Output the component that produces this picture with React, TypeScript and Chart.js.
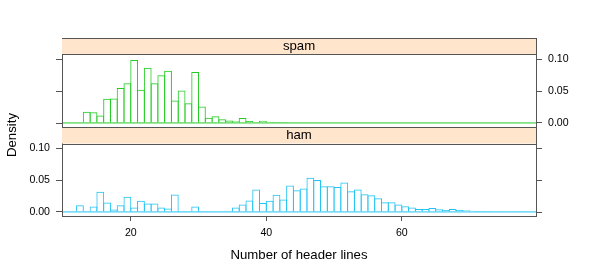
import React, { useEffect, useRef } from "react";
import { Chart, registerables } from "chart.js";

Chart.register(...registerables);

// ---- data (bin start values, width 1) ----
const binStarts = [
  10, 11, 12, 13, 14, 15, 16, 17, 18, 19,
  20, 21, 22, 23, 24, 25, 26, 27, 28, 29,
  30, 31, 32, 33, 34, 35, 36, 37, 38, 39,
  40, 41, 42, 43, 44, 45, 46, 47, 48, 49,
  50, 51, 52, 53, 54, 55, 56, 57, 58, 59,
  60, 61, 62, 63, 64, 65, 66, 67, 68, 69,
  70, 71, 72, 73, 74, 75, 76, 77, 78, 79,
];

const spamDensity = [
  0.001, 0, 0.001, 0.0177, 0.0167, 0.0115, 0.038, 0.0385, 0.0547, 0.0625,
  0.099, 0.052, 0.0865, 0.0625, 0.075, 0.082, 0.0354, 0.051, 0.031, 0.08,
  0.026, 0.0083, 0.0104, 0.0057, 0.004, 0.0026, 0.0078, 0.003, 0.001, 0.0036,
  0.002, 0.0015, 0.0015, 0.001, 0.0005, 0.001, 0.0005, 0, 0, 0,
  0, 0, 0, 0, 0, 0, 0, 0, 0, 0,
  0, 0, 0, 0, 0, 0, 0, 0, 0, 0,
  0, 0, 0, 0, 0, 0, 0, 0, 0, 0,
];

const hamDensity = [
  0.0005, 0, 0.0105, 0.001, 0.0084, 0.0316, 0.0147, 0.0037, 0.0105, 0.0237,
  0.0068, 0.0174, 0.0132, 0.0132, 0.0068, 0.0053, 0.0274, 0.0016, 0.001, 0.0084,
  0.0016, 0.0003, 0, 0, 0.002, 0.0068, 0.0116, 0.0179, 0.0353, 0.0142,
  0.0174, 0.0268, 0.0195, 0.0416, 0.0342, 0.0368, 0.0537, 0.05, 0.0405, 0.0405,
  0.039, 0.0463, 0.0326, 0.0353, 0.0279, 0.0263, 0.0216, 0.0153, 0.0153, 0.0118,
  0.0089, 0.0068, 0.0047, 0.0047, 0.0063, 0.0042, 0.0032, 0.0047, 0.0032, 0.0026,
  0.002, 0.0016, 0.0015, 0.001, 0.001, 0.0006, 0.0005, 0.0004, 0.0003, 0.0002,
];

const panelLabels = ["spam", "ham"];
const xTickValues = [20, 40, 60];
const yTickValues = [0, 0.05, 0.1];
const xTitle = "Number of header lines";
const yTitle = "Density";

// ---- styling / layout ----
const FONT = '"Liberation Sans", Arial, Helvetica, sans-serif';
const TITLE_SIZE = 13.2;
const TICK_SIZE = 10.6;
const SPAM_COLOR = "#22cc22";
const HAM_COLOR = "#22c4f4";
const STRIP_FILL = "#ffe5cc";
const FRAME = "#555555";
const X_LIM = [9.85, 79.8];
const Y_LIM = [-0.0064, 0.1075];
const W = 589;
const H = 273;
const AREA_TOP = 38;
const AREA_BOTTOM = 216;
const STRIP_H = 16.5;

const areaH = AREA_BOTTOM - AREA_TOP;
const panelH = (areaH - 2 * STRIP_H) / 2;
const ppu = panelH / (Y_LIM[1] - Y_LIM[0]);
const topMax = Y_LIM[1] + STRIP_H / ppu;
const topMin = topMax - areaH / ppu;
const botMin = Y_LIM[0];
const botMax = botMin + areaH / ppu;

const fmt = (v: number) => v.toFixed(2);

const latticePlugin = {
  id: "latticeFrame",
  afterDatasetsDraw(chart: any) {
    const { ctx, chartArea } = chart;
    const yTop = chart.scales.yTop;
    const yBot = chart.scales.yBot;
    const L = chartArea.left;
    const R = chartArea.right;
    const topPanelTop = yTop.getPixelForValue(Y_LIM[1]);
    const topPanelBottom = yTop.getPixelForValue(Y_LIM[0]);
    const botPanelTop = yBot.getPixelForValue(Y_LIM[1]);
    const strips = [
      { y0: chartArea.top, y1: topPanelTop, label: panelLabels[0] },
      { y0: topPanelBottom, y1: botPanelTop, label: panelLabels[1] },
    ];
    ctx.save();
    for (const s of strips) {
      ctx.fillStyle = STRIP_FILL;
      ctx.fillRect(L, s.y0, R - L, s.y1 - s.y0);
      ctx.fillStyle = "#000";
      ctx.font = `${TITLE_SIZE}px ${FONT}`;
      ctx.textAlign = "center";
      ctx.textBaseline = "middle";
      ctx.fillText(s.label, (L + R) / 2, (s.y0 + s.y1) / 2 + 0.5);
    }
    ctx.strokeStyle = FRAME;
    ctx.lineWidth = 1;
    const hl = (y: number) => {
      const yy = Math.round(y) + 0.5;
      ctx.beginPath();
      ctx.moveTo(L, yy);
      ctx.lineTo(R, yy);
      ctx.stroke();
    };
    hl(chartArea.top);
    hl(topPanelTop);
    hl(topPanelBottom);
    hl(botPanelTop);
    // unlabeled ticks: left side of top panel, right side of bottom panel
    for (const v of yTickValues) {
      const yt = Math.round(yTop.getPixelForValue(v)) + 0.5;
      ctx.beginPath();
      ctx.moveTo(L - 6, yt);
      ctx.lineTo(L, yt);
      ctx.stroke();
      const yb = Math.round(yBot.getPixelForValue(v)) + 0.5;
      ctx.beginPath();
      ctx.moveTo(R, yb);
      ctx.lineTo(R + 6, yb);
      ctx.stroke();
    }
    // y title
    ctx.fillStyle = "#000";
    ctx.font = `${TITLE_SIZE}px ${FONT}`;
    ctx.textAlign = "center";
    ctx.textBaseline = "middle";
    ctx.translate(12, 135);
    ctx.rotate(-Math.PI / 2);
    ctx.fillText(yTitle, 0, 0);
    ctx.restore();
  },
};

export default function App() {
  const ref = useRef<HTMLCanvasElement | null>(null);
  useEffect(() => {
    if (!ref.current) return;
    const toPts = (vals: number[]) => binStarts.map((b, i) => ({ x: b + 0.5, y: vals[i] }));
    const baseLine = [
      { x: binStarts[0], y: 0 },
      { x: binStarts[binStarts.length - 1] + 1, y: 0 },
    ];
    const barCommon = {
      type: "bar" as const,
      backgroundColor: "rgba(0,0,0,0)",
      borderWidth: 1,
      borderSkipped: "start" as const,
      grouped: false,
      categoryPercentage: 1,
      barPercentage: 1.148,
      xAxisID: "x",
    };
    const tickFont = { family: FONT, size: TICK_SIZE };
    const chart = new Chart(ref.current, {
      type: "bar",
      data: {
        datasets: [
          { ...barCommon, label: panelLabels[0], data: toPts(spamDensity), borderColor: SPAM_COLOR, yAxisID: "yTop" } as any,
          { ...barCommon, label: panelLabels[1], data: toPts(hamDensity), borderColor: HAM_COLOR, yAxisID: "yBot" } as any,
          { type: "line", data: baseLine, borderColor: SPAM_COLOR, borderWidth: 1, pointRadius: 0, yAxisID: "yTop", xAxisID: "x" } as any,
          { type: "line", data: baseLine, borderColor: HAM_COLOR, borderWidth: 1, pointRadius: 0, yAxisID: "yBot", xAxisID: "x" } as any,
        ],
      },
      options: {
        responsive: false,
        animation: false,
        events: [],
        layout: { padding: { top: AREA_TOP, left: 0, right: 0, bottom: 0 } },
        plugins: { legend: { display: false }, tooltip: { enabled: false } },
        scales: {
          x: {
            type: "linear",
            position: "bottom",
            offset: false,
            min: X_LIM[0],
            max: X_LIM[1],
            afterBuildTicks: (s: any) => { s.ticks = xTickValues.map((v) => ({ value: v })); },
            afterFit: (s: any) => { s.height = H - AREA_BOTTOM; },
            grid: { offset: false, drawOnChartArea: false, drawTicks: true, tickLength: 5, color: FRAME },
            border: { display: true, color: FRAME },
            ticks: { color: "#000", font: tickFont, padding: 6, maxRotation: 0, autoSkip: false },
            title: { display: true, text: xTitle, color: "#000", font: { family: FONT, size: TITLE_SIZE }, padding: { top: 0, bottom: 10 } },
          },
          yBot: {
            type: "linear",
            position: "left",
            min: botMin,
            max: botMax,
            afterBuildTicks: (s: any) => { s.ticks = yTickValues.map((v) => ({ value: v })); },
            afterFit: (s: any) => { s.width = 62; },
            grid: { drawOnChartArea: false, drawTicks: true, tickLength: 6, color: FRAME },
            border: { display: true, color: FRAME },
            ticks: { color: "#000", font: tickFont, padding: 6, callback: (v: any) => fmt(Number(v)), autoSkip: false },
          },
          yTop: {
            type: "linear",
            position: "right",
            min: topMin,
            max: topMax,
            afterBuildTicks: (s: any) => { s.ticks = yTickValues.map((v) => ({ value: v })); },
            afterFit: (s: any) => { s.width = W - 536; },
            grid: { drawOnChartArea: false, drawTicks: true, tickLength: 6, color: FRAME },
            border: { display: true, color: FRAME },
            ticks: { color: "#000", font: tickFont, padding: 6, callback: (v: any) => fmt(Number(v)), autoSkip: false },
          },
        },
      } as any,
      plugins: [latticePlugin],
    });
    return () => chart.destroy();
  }, []);
  return (
    <div style={{ position: "fixed", left: 0, top: 0, width: W, height: H, background: "#fff" }}>
      <canvas ref={ref} width={W} height={H} style={{ display: "block", width: W, height: H }} />
    </div>
  );
}
